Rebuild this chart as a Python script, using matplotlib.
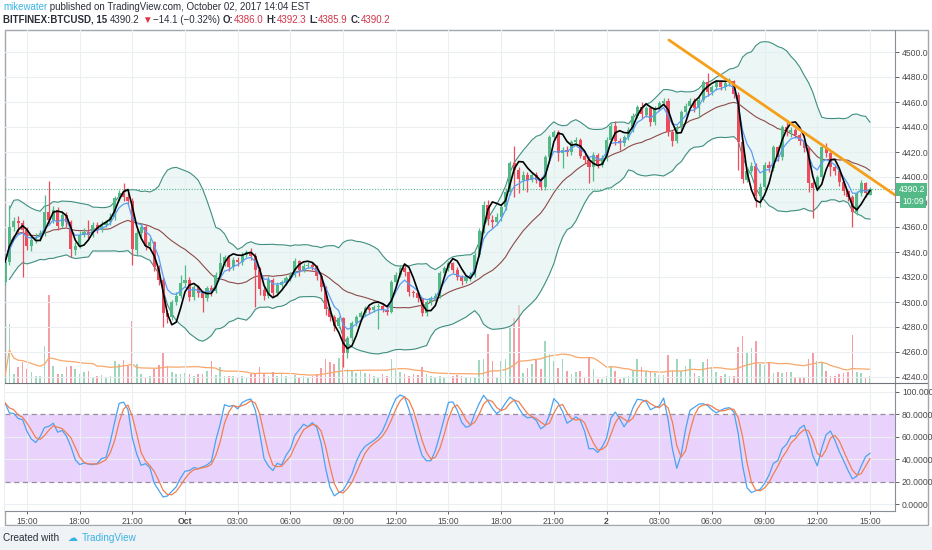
import numpy as np
import pandas as pd
import matplotlib
matplotlib.use("Agg")
import matplotlib.pyplot as plt
from matplotlib.patches import Rectangle

# 15 minute BTCUSD candles (first bar 13:45 Sep 30)
opens = [
    4316, 4332, 4360, 4365, 4363, 4358, 4345, 4350, 4352, 4355,
    4372, 4366, 4374, 4361, 4370, 4364, 4342, 4345, 4354, 4356,
    4354, 4362, 4358, 4362, 4364, 4368, 4383, 4387, 4384, 4381,
    4342, 4355, 4360, 4345, 4348, 4328, 4318, 4291, 4288, 4300,
    4305, 4315, 4318, 4304, 4312, 4307, 4303, 4311, 4309, 4322,
    4331, 4336, 4328, 4334, 4332, 4338, 4340, 4337, 4326, 4310,
    4305, 4318, 4307, 4314, 4316, 4319, 4322, 4333, 4326, 4329,
    4330, 4328, 4321, 4312, 4294, 4288, 4281, 4287, 4259, 4271,
    4283, 4288, 4291, 4295, 4294, 4296, 4297, 4294, 4292, 4316,
    4322, 4327, 4324, 4308, 4307, 4303, 4291, 4300, 4303, 4305,
    4323, 4327, 4331, 4326, 4320, 4317, 4320, 4322, 4338, 4357,
    4378, 4366, 4364, 4368, 4376, 4388, 4411, 4406, 4398, 4402,
    4398, 4402, 4398, 4392, 4416, 4432, 4436, 4419, 4422, 4420,
    4428, 4430, 4417, 4414, 4408, 4418, 4410, 4415, 4430, 4441,
    4429, 4427, 4432, 4438, 4449, 4456, 4450, 4455, 4444, 4455,
    4459, 4461, 4436, 4429, 4440, 4452, 4457, 4461, 4455, 4462,
    4476, 4468, 4472, 4476, 4472, 4475, 4477, 4466, 4428, 4398,
    4405, 4409, 4385, 4392, 4410, 4407, 4424, 4416, 4440, 4436,
    4438, 4434, 4429, 4423, 4395, 4391, 4400, 4424, 4419, 4408,
    4405, 4396, 4389, 4384, 4372, 4387, 4395, 4386.0,
]
highs = [
    4334, 4378, 4368, 4369, 4366, 4360, 4353, 4355, 4358, 4386,
    4397, 4377, 4376, 4373, 4372, 4366, 4348, 4357, 4359, 4366,
    4364, 4364, 4365, 4366, 4371, 4385, 4390, 4395, 4387, 4383,
    4358, 4363, 4362, 4351, 4349, 4330, 4320, 4294, 4302, 4308,
    4322, 4330, 4320, 4314, 4314, 4309, 4313, 4314, 4324, 4339,
    4338, 4338, 4336, 4336, 4340, 4342, 4343, 4339, 4328, 4312,
    4321, 4319, 4316, 4318, 4321, 4324, 4335, 4334, 4331, 4332,
    4332, 4330, 4322, 4313, 4296, 4290, 4289, 4288, 4273, 4285,
    4290, 4293, 4297, 4297, 4298, 4299, 4299, 4296, 4318, 4324,
    4330, 4330, 4325, 4310, 4309, 4304, 4302, 4305, 4307, 4325,
    4329, 4333, 4332, 4328, 4322, 4322, 4324, 4340, 4359, 4381,
    4382, 4370, 4371, 4378, 4391, 4413, 4425, 4408, 4405, 4404,
    4404, 4404, 4400, 4418, 4434, 4438, 4438, 4424, 4425, 4430,
    4432, 4431, 4419, 4416, 4420, 4419, 4418, 4432, 4443, 4445,
    4431, 4434, 4440, 4451, 4458, 4460, 4457, 4456, 4457, 4461,
    4463, 4463, 4438, 4442, 4454, 4459, 4463, 4463, 4465, 4478,
    4483, 4474, 4478, 4478, 4477, 4479, 4478, 4468, 4430, 4408,
    4412, 4411, 4395, 4412, 4413, 4426, 4425, 4442, 4444, 4440,
    4439, 4435, 4430, 4424, 4397, 4402, 4426, 4427, 4420, 4410,
    4406, 4397, 4390, 4386, 4389, 4398, 4396, 4392.3,
]
lows = [
    4314, 4330, 4357, 4356, 4320, 4342, 4341, 4347, 4349, 4353,
    4362, 4363, 4358, 4359, 4360, 4336, 4338, 4343, 4352, 4351,
    4352, 4355, 4356, 4360, 4362, 4366, 4381, 4381, 4378, 4330,
    4338, 4352, 4342, 4343, 4325, 4314, 4280, 4283, 4286, 4298,
    4303, 4312, 4301, 4302, 4304, 4292, 4301, 4305, 4307, 4320,
    4329, 4325, 4326, 4329, 4330, 4336, 4334, 4296, 4306, 4302,
    4303, 4304, 4305, 4312, 4314, 4317, 4320, 4321, 4324, 4327,
    4326, 4318, 4309, 4290, 4285, 4277, 4279, 4248, 4255, 4269,
    4281, 4286, 4289, 4291, 4292, 4278, 4292, 4290, 4291, 4314,
    4320, 4321, 4305, 4304, 4300, 4289, 4289, 4298, 4301, 4303,
    4321, 4325, 4323, 4318, 4314, 4315, 4317, 4320, 4336, 4355,
    4362, 4359, 4362, 4365, 4374, 4386, 4384, 4387, 4390, 4388,
    4396, 4395, 4390, 4390, 4414, 4430, 4413, 4407, 4417, 4418,
    4426, 4415, 4411, 4395, 4397, 4407, 4408, 4413, 4428, 4426,
    4422, 4425, 4430, 4436, 4447, 4447, 4448, 4441, 4442, 4453,
    4457, 4433, 4425, 4427, 4438, 4450, 4455, 4452, 4448, 4460,
    4465, 4466, 4470, 4470, 4470, 4473, 4463, 4406, 4395, 4396,
    4403, 4376, 4376, 4390, 4404, 4405, 4413, 4414, 4433, 4432,
    4431, 4426, 4420, 4388, 4367, 4389, 4398, 4416, 4401, 4402,
    4393, 4386, 4381, 4360, 4370, 4385, 4384, 4385.9,
]
closes = [
    4332, 4360, 4365, 4363, 4358, 4345, 4350, 4352, 4355, 4372,
    4366, 4374, 4361, 4370, 4364, 4342, 4345, 4354, 4356, 4354,
    4362, 4358, 4362, 4364, 4368, 4383, 4387, 4384, 4381, 4342,
    4355, 4360, 4345, 4348, 4328, 4318, 4291, 4288, 4300, 4305,
    4315, 4318, 4304, 4312, 4307, 4303, 4311, 4309, 4322, 4331,
    4336, 4328, 4334, 4332, 4338, 4340, 4337, 4326, 4310, 4305,
    4318, 4307, 4314, 4316, 4319, 4322, 4333, 4326, 4329, 4330,
    4328, 4321, 4312, 4294, 4288, 4281, 4287, 4259, 4271, 4283,
    4288, 4291, 4295, 4294, 4296, 4297, 4294, 4292, 4316, 4322,
    4327, 4324, 4308, 4307, 4303, 4291, 4300, 4303, 4305, 4323,
    4327, 4331, 4326, 4320, 4317, 4320, 4322, 4338, 4357, 4378,
    4366, 4364, 4368, 4376, 4388, 4411, 4406, 4398, 4402, 4398,
    4402, 4398, 4392, 4416, 4432, 4436, 4419, 4422, 4420, 4428,
    4430, 4417, 4414, 4408, 4418, 4410, 4415, 4430, 4441, 4429,
    4427, 4432, 4438, 4449, 4456, 4450, 4455, 4444, 4455, 4459,
    4461, 4436, 4429, 4440, 4452, 4457, 4461, 4455, 4462, 4476,
    4468, 4472, 4476, 4472, 4475, 4477, 4466, 4428, 4398, 4405,
    4409, 4385, 4392, 4410, 4407, 4424, 4416, 4440, 4436, 4438,
    4434, 4429, 4423, 4395, 4391, 4400, 4424, 4419, 4408, 4405,
    4396, 4389, 4384, 4372, 4387, 4395, 4387, 4390.2,
]
volume = [
    7, 59, 9, 16, 21, 14, 11, 7, 7, 37,
    88, 17, 9, 9, 16, 17, 14, 9, 11, 12,
    6, 7, 8, 6, 7, 22, 19, 23, 17, 62,
    19, 9, 6, 7, 14, 18, 30, 17, 11, 9,
    9, 10, 9, 7, 9, 9, 12, 22, 8, 16,
    7, 7, 7, 6, 7, 6, 9, 10, 16, 9,
    7, 11, 7, 9, 7, 7, 8, 6, 7, 6,
    7, 9, 15, 24, 21, 19, 25, 28, 14, 12,
    10, 12, 10, 9, 7, 6, 9, 7, 24, 14,
    11, 9, 7, 9, 8, 16, 9, 7, 6, 7,
    6, 9, 7, 8, 7, 6, 6, 6, 23, 24,
    49, 22, 6, 22, 24, 55, 65, 78, 10, 15,
    19, 23, 14, 42, 29, 22, 15, 24, 12, 9,
    11, 12, 5, 26, 14, 4, 4, 7, 17, 12,
    4, 6, 7, 12, 24, 16, 12, 11, 10, 8,
    8, 28, 12, 24, 12, 17, 24, 10, 7, 21,
    24, 16, 11, 7, 9, 7, 7, 36, 47, 31,
    35, 42, 19, 18, 20, 10, 11, 10, 11, 11,
    6, 6, 5, 24, 31, 22, 21, 12, 7, 7,
    9, 10, 11, 48, 11, 10, 6, 7,
]

# user drawn trend line: (bar index, price)
trend_x = [151.2, 202.7]
trend_y = [4509.6, 4385.6]

last_price = 4390.2
price_ticks = list(range(4240, 4501, 20))
stoch_ticks = [0, 20, 40, 60, 80, 100]

UP, DOWN = "#53b987", "#eb4d5c"
W, H = 932, 550

times = pd.date_range("2017-09-30 13:45", periods=len(closes), freq="15min")
x = np.arange(len(closes))
o = np.array(opens, float)
c = np.array(closes, float)
hi = np.array(highs, float)
lo = np.array(lows, float)
up = c >= o
cols = np.where(up, UP, DOWN)


def wma(ser, n):
    def f(v):
        w = np.arange(1, len(v) + 1)
        return np.dot(v, w) / w.sum()
    return ser.rolling(n, min_periods=1).apply(f, raw=True)


def hma(ser, n):
    return wma(2 * wma(ser, n // 2) - wma(ser, n), int(round(np.sqrt(n))))


s = pd.Series(c)
basis = s.rolling(20, min_periods=2).mean()
dev = s.rolling(20, min_periods=2).std(ddof=0)
bb_up = basis + 2 * dev
bb_lo = basis - 2 * dev
fast = hma(s, 9)
slow = s.ewm(span=5, adjust=False).mean()

hh = pd.Series(hi).rolling(14, min_periods=1).max()
ll = pd.Series(lo).rolling(14, min_periods=1).min()
k_raw = 100 * (s - ll) / (hh - ll)
k = k_raw.rolling(3, min_periods=1).mean()
d = k.rolling(3, min_periods=1).mean()
vol_ma = pd.Series(volume, dtype=float).rolling(20, min_periods=1).mean()

plt.rcParams["font.family"] = ["Liberation Sans", "DejaVu Sans"]

fig = plt.figure(figsize=(W / 100, H / 100), dpi=100)


def rect(x0, y0, x1, y1):
    return [x0 / W, 1 - y1 / H, (x1 - x0) / W, (y1 - y0) / H]


bg = fig.add_axes([0, 0, 1, 1])
bg.set_xlim(0, W)
bg.set_ylim(H, 0)
bg.axis("off")
bg.add_patch(Rectangle((0, 527), W, H - 527, color="#f0f3f6", lw=0))

ax_vol = fig.add_axes(rect(5, 30, 895, 383))
ax = fig.add_axes(rect(5, 30, 895, 383))
ax_st = fig.add_axes(rect(5, 383, 895, 511))
xmin, xmax = 0, 202.7

# volume
ax_vol.bar(x, volume, width=0.38, color=cols, alpha=0.55, lw=0)
ax_vol.plot(x, vol_ma, color="#f7a86b", lw=0.9)
ax_vol.set_ylim(0, 353)
ax_vol.set_xlim(xmin, xmax)
ax_vol.axis("off")

# price
ax.patch.set_alpha(0)
ax.fill_between(x, bb_lo, bb_up, color="#dff0ef", alpha=0.6, lw=0, zorder=1)
ax.plot(x, bb_up, color="#3f8f80", lw=0.8, zorder=2)
ax.plot(x, bb_lo, color="#3f8f80", lw=0.8, zorder=2)
ax.plot(x, basis, color="#8e4a4a", lw=0.8, zorder=2)
ax.axhline(last_price, color=UP, ls=(0, (1, 1.5)), lw=0.8, zorder=2)
ax.vlines(x, lo, hi, colors=cols, lw=0.9, zorder=3)
body = np.where(np.abs(c - o) < 0.5, 0.5, c - o)
ax.bar(x, body, bottom=o, width=0.7, color=cols, lw=0, zorder=3)
ax.plot(x, slow, color="#5b9cf6", lw=0.9, zorder=4)
ax.plot(x, fast, color="#000000", lw=1.2, zorder=5)
ax.plot(trend_x, trend_y, color="#f5a01a", lw=2, zorder=6, solid_capstyle="round")
ax.set_xlim(xmin, xmax)
ax.set_ylim(4235.2, 4517.6)

tick_pos = [i for i, t in enumerate(times) if t.minute == 0 and t.hour % 3 == 0]


def tick_label(t):
    if t.hour == 0:
        return "Oct" if t.day == 1 else str(t.day)
    return t.strftime("%H:%M")


tick_lab = [tick_label(times[i]) for i in tick_pos]

for a in (ax, ax_st):
    a.set_xticks(tick_pos)
    a.grid(True, color="#eceef1", lw=0.8, zorder=0)
    a.set_axisbelow(True)
    a.yaxis.tick_right()
    a.tick_params(axis="y", labelsize=6.2, colors="#4a4a4a", length=3, pad=2, width=0.6)
    for side in ("left", "top", "bottom"):
        a.spines[side].set_visible(False)
    a.spines["right"].set_color("#8a8e96")

ax.set_yticks(price_ticks)
ax.set_yticklabels([f"{v:.1f}" for v in price_ticks])
ax.tick_params(axis="x", length=0, labelbottom=False)

# price label + countdown on the axis
lbl = dict(xycoords=ax.get_yaxis_transform(), textcoords="offset points",
           ha="left", va="center", color="white", fontsize=6.2, zorder=10,
           annotation_clip=False)
ax.annotate(f"{last_price:.1f}", xy=(1, last_price), xytext=(2.5, 0),
            bbox=dict(boxstyle="square,pad=0.25", fc=UP, ec="none"), **lbl)
ax.annotate("10:09", xy=(1, last_price), xytext=(5, -8.5),
            bbox=dict(boxstyle="square,pad=0.25", fc=UP, ec="none"), **lbl)

# stochastic
ax_st.axhspan(20, 80, color="#e9d3fd", lw=0, zorder=0.5)
for lvl in (20, 80):
    ax_st.axhline(lvl, color="#9a8aa3", lw=0.9, ls=(0, (4, 3)), zorder=1)
ax_st.plot(x, k, color="#4aa3f0", lw=0.9, zorder=3)
ax_st.plot(x, d, color="#f07f50", lw=0.9, zorder=3)
ax_st.set_xlim(xmin, xmax)
ax_st.set_ylim(-6.2, 107.6)
ax_st.set_yticks(stoch_ticks)
ax_st.set_yticklabels([f"{v:.4f}" for v in stoch_ticks])
ax_st.set_xticklabels(tick_lab)
ax_st.tick_params(axis="x", labelsize=6.2, colors="#4a4a4a", length=2, pad=2, width=0.6)
for t, lab in zip(ax_st.get_xticklabels(), tick_lab):
    if ":" not in lab:
        t.set_fontweight("bold")
ax_st.spines["top"].set_visible(True)
ax_st.spines["top"].set_color("#6f737a")
ax_st.spines["bottom"].set_visible(True)
ax_st.spines["bottom"].set_color("#8a8e96")

# frame
bg.add_patch(Rectangle((5, 30), 923, 495, fill=False, ec="#a3a6ad", lw=1, zorder=20))
bg.plot([895, 928], [383, 383], color="#6f737a", lw=0.8)


def chain(parts, x0, y0, size):
    t = bg.text(x0, y0, parts[0][0], color=parts[0][1], fontweight=parts[0][2],
                fontsize=size, va="bottom", ha="left")
    for txt, col, wt, gap in parts[1:]:
        t = bg.annotate(txt, xy=(1, 0), xycoords=t, xytext=(gap, 0),
                        textcoords="offset points", color=col, fontweight=wt,
                        fontsize=size, va="bottom", ha="left")
    return t


dark, red = "#2a2e39", "#d0354a"
chain([("mikewater", "#3bb3e4", "normal"),
       (" published on TradingView.com, October 02, 2017 14:04 EST", dark, "normal", 0)],
      3, 12, 7)
chain([("BITFINEX:BTCUSD, 15", dark, "bold"),
       ("4390.2", dark, "normal", 2),
       ("\u25bc", "#e0303f", "normal", 1.5),
       ("\u221214.1 (\u22120.32%)", dark, "normal", 1.5),
       ("O:", dark, "bold", 2), ("4386.0", red, "normal", 0),
       ("H:", dark, "bold", 2), ("4392.3", red, "normal", 0),
       ("L:", dark, "bold", 2), ("4385.9", red, "normal", 0),
       ("C:", dark, "bold", 2), ("4390.2", red, "normal", 0)],
      3, 25, 7)

chain([("Created with", dark, "normal"),
       ("\u2601", "#3bb3e4", "normal", 6),
       ("TradingView", "#3bb3e4", "normal", 3)],
      3, 543, 7.2)

fig.savefig("out.png", dpi=100)
